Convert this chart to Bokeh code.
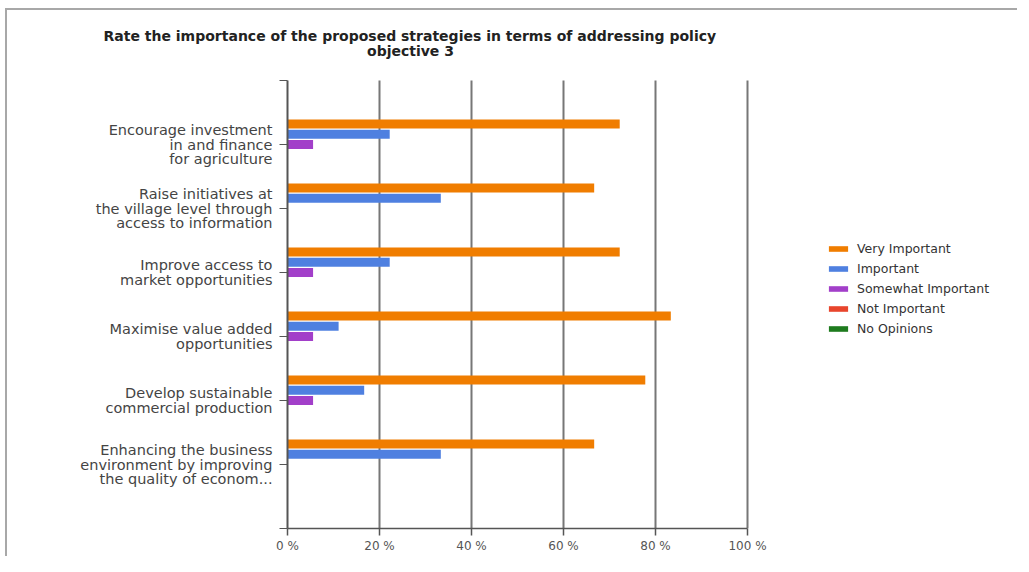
from bokeh.plotting import figure
from bokeh.models import (ColumnDataSource, Range1d, FixedTicker, Legend, LegendItem, Title, Label)
from bokeh.transform import dodge
from bokeh.embed import file_html
from bokeh.resources import INLINE

title_lines = ["Rate the importance of the proposed strategies in terms of addressing policy",
               "objective 3"]
categories = [
    "Encourage investment\nin and finance\nfor agriculture",
    "Raise initiatives at\nthe village level through\naccess to information",
    "Improve access to\nmarket opportunities",
    "Maximise value added\nopportunities",
    "Develop sustainable\ncommercial production",
    "Enhancing the business\nenvironment by improving\nthe quality of econom...",
]
series_names = ["Very Important", "Important", "Somewhat Important", "Not Important", "No Opinions"]
very_important = [72.22, 66.67, 72.22, 83.33, 77.78, 66.67]
important = [22.22, 33.33, 22.22, 11.11, 16.67, 33.33]
somewhat_important = [5.56, 0.0, 5.56, 5.56, 5.56, 0.0]
not_important = [0.0, 0.0, 0.0, 0.0, 0.0, 0.0]
no_opinions = [0.0, 0.0, 0.0, 0.0, 0.0, 0.0]
colors = ["#F07D00", "#4F80E0", "#A23FC9", "#E8452C", "#1E7B1E"]
x_ticks = [0, 20, 40, 60, 80, 100]
x_tick_labels = ["0 %", "20 %", "40 %", "60 %", "80 %", "100 %"]

FONT = "DejaVu Sans"
N = len(categories)

pos = list(range(1, N + 1))
src = ColumnDataSource(dict(y=pos, s0=very_important, s1=important, s2=somewhat_important,
                            s3=not_important, s4=no_opinions))

PX_PER_PCT = 4.6
PX_PER_CAT = 64.0
FRAME_W, FRAME_H = 730, 485
x_end = FRAME_W / PX_PER_PCT
y_top = -(FRAME_H - PX_PER_CAT * (N + 1)) / PX_PER_CAT

p = figure(frame_width=FRAME_W, frame_height=FRAME_H, output_backend="svg", toolbar_location=None,
           x_range=Range1d(0, x_end), y_range=Range1d(N + 1, y_top),
           min_border_left=280, min_border_right=0, min_border_top=33, min_border_bottom=28)
p.styles = {"border-top": "2px solid #A8A8A8", "border-left": "2px solid #A8A8A8",
            "margin-left": "5px", "margin-top": "8px"}
p.outline_line_color = None
p.background_fill_color = "white"
p.border_fill_color = "white"
p.xgrid.grid_line_color = None
p.ygrid.grid_line_color = None

# vertical grid lines, limited to the value range of the chart
p.segment(x0=x_ticks[1:], x1=x_ticks[1:], y0=[0] * 5, y1=[N + 1] * 5,
          line_color="#777777", line_width=2)

offsets = [-0.32, -0.16, 0.0, 0.16, 0.32]
renderers = []
for i, (name, col) in enumerate(zip(series_names, colors)):
    r = p.hbar(y=dodge("y", offsets[i], range=p.y_range), right="s%d" % i, left=0,
               height=0.14, source=src, fill_color=col, line_color=None)
    renderers.append(r)

# axes
p.xaxis.bounds = (0, 100)
p.xaxis.ticker = FixedTicker(ticks=x_ticks)
p.xaxis.major_label_overrides = {t: l for t, l in zip(x_ticks, x_tick_labels)}
p.xaxis.major_label_text_font = FONT
p.xaxis.major_label_text_font_size = "12px"
p.xaxis.major_label_text_color = "#555555"
p.xaxis.axis_line_color = "#555555"
p.xaxis.axis_line_width = 1.5
p.xaxis.major_tick_line_color = "#555555"
p.xaxis.major_tick_line_width = 1.5
p.xaxis.major_tick_out = 7
p.xaxis.major_tick_in = 0
p.xaxis.minor_tick_line_color = None
p.xaxis.major_label_standoff = 3

p.yaxis.bounds = (0, N + 1)
p.yaxis.ticker = FixedTicker(ticks=list(range(0, N + 2)))
overrides = {0: "", N + 1: ""}
for i, c in enumerate(categories):
    overrides[i + 1] = c
p.yaxis.major_label_overrides = overrides
p.yaxis.major_label_text_font = FONT
p.yaxis.major_label_text_font_size = "14.5px"
p.yaxis.major_label_text_line_height = 0.88
p.yaxis.major_label_text_color = "#444444"
p.yaxis.axis_line_color = "#555555"
p.yaxis.axis_line_width = 2
p.yaxis.major_tick_line_color = "#555555"
p.yaxis.major_tick_line_width = 1
p.yaxis.major_tick_out = 8
p.yaxis.major_tick_in = 0
p.yaxis.minor_tick_line_color = None
p.yaxis.major_label_standoff = 7

# title: first line in the panel above, second line centred under it
p.add_layout(Title(text=title_lines[0], align="left", offset=-184, standoff=0,
                   text_font=FONT, text_font_size="14px", text_font_style="bold",
                   text_color="#222222"), "above")
p.add_layout(Label(x=26.74, y=-30 / PX_PER_CAT, text=title_lines[1], text_align="center",
                   text_baseline="middle", text_font=FONT, text_font_size="14px",
                   text_font_style="bold", text_color="#222222"))

legend = Legend(items=[LegendItem(label=n, renderers=[r]) for n, r in zip(series_names, renderers)],
                location=(539, 192), padding=0, margin=0, spacing=5,
                glyph_width=24, glyph_height=7, label_height=14, label_standoff=7,
                label_text_font=FONT, label_text_font_size="12.5px", label_text_color="#333333",
                border_line_color=None, background_fill_alpha=0)
p.add_layout(legend, "center")

open("out.html", "w").write(file_html(p, INLINE))
